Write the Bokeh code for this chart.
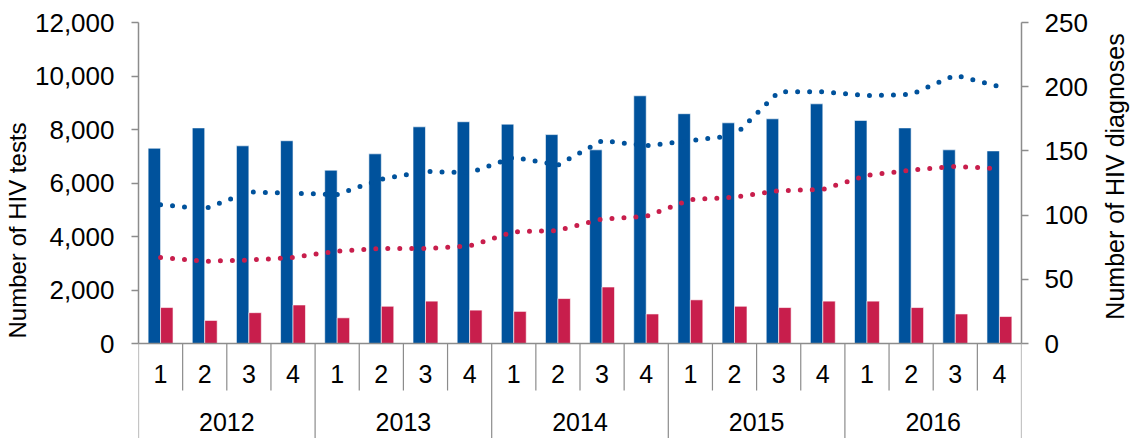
from bokeh.plotting import figure
from bokeh.models import (Range1d, FactorRange, LinearAxis, FixedTicker,
                          NumeralTickFormatter, ColumnDataSource, Span, Label)
from bokeh.transform import dodge
from bokeh.embed import file_html
from bokeh.resources import INLINE
from bokeh.core.properties import value

# ---------------- data ----------------
years = ["2012", "2013", "2014", "2015", "2016"]
quarters = ["1", "2", "3", "4"]
hiv_tests = [7300, 8060, 7390, 7580,
             6480, 7090, 8100, 8290,
             8200, 7810, 7240, 9260,
             8590, 8250, 8400, 8960,
             8340, 8060, 7240, 7200]
hiv_diagnoses = [28, 18, 24, 30,
                 20, 29, 33, 26,
                 25, 35, 44, 23,
                 34, 29, 28, 33,
                 33, 28, 23, 21]
tests_trend = [108, 105, 118, 117,
               116, 128, 134, 133,
               145, 139, 158, 154,
               158, 162, 196, 196,
               193, 194, 209, 200]
diag_trend = [67, 64, 65, 67,
              72, 74, 74, 76,
              87, 88, 97, 99,
              112, 114, 119, 120,
              131, 135, 138, 136]
left_ticks = [0, 2000, 4000, 6000, 8000, 10000, 12000]
right_ticks = [0, 50, 100, 150, 200, 250]
left_title = "Number of HIV tests"
right_title = "Number of HIV diagnoses"

# ---------------- layout ----------------
BLUE = "#00529C"
RED = "#C81E4C"
GREY = "#8C8C8C"
FONT = "Liberation Sans"
TICK_FS = "26px"
CAT_FS = "25px"
TITLE_FS = "24px"

W, H = 1130, 438
TOP, LEFT, RIGHT = 22, 135, 109
ZERO_PX = 321            # px from frame top down to value 0
FRAME_H = H - TOP
LMAX, RMAX = left_ticks[-1], right_ticks[-1]
lmin = LMAX - LMAX * FRAME_H / ZERO_PX
rmin = lmin * RMAX / LMAX
upp = LMAX / ZERO_PX     # left-axis units per pixel

factors = [(y, q) for y in years for q in quarters]

p = figure(width=W, height=H, output_backend="svg", toolbar_location=None,
           x_range=FactorRange(*factors, factor_padding=0, group_padding=0,
                               subgroup_padding=0, range_padding=0),
           y_range=Range1d(lmin, LMAX), x_axis_location=None,
           min_border_top=TOP, min_border_bottom=0,
           min_border_left=LEFT, min_border_right=RIGHT)
p.extra_y_ranges = {"right": Range1d(rmin, RMAX)}
p.outline_line_color = None
p.xgrid.visible = False
p.ygrid.visible = False
p.background_fill_color = "white"
p.border_fill_color = "white"

src = ColumnDataSource(dict(x=factors, tests=hiv_tests, diag=hiv_diagnoses,
                            tt=tests_trend, dt=diag_trend))

p.vbar(x=dodge("x", -0.141, range=p.x_range), top="tests", bottom=0, width=0.282,
       source=src, fill_color=BLUE, line_color="white", line_width=0.6)
p.vbar(x=dodge("x", 0.141, range=p.x_range), top="diag", bottom=0, width=0.282,
       source=src, fill_color=RED, line_color="white", line_width=0.6,
       y_range_name="right")

p.line(x="x", y="tt", source=src, y_range_name="right", line_color=BLUE,
       line_width=5, line_dash="0 12", line_cap="round")
p.line(x="x", y="dt", source=src, y_range_name="right", line_color=RED,
       line_width=5, line_dash="0 12", line_cap="round")

# category axis (drawn inside the frame below zero)
p.add_layout(Span(location=0, dimension="width", line_color=GREY, line_width=1.5))

q_sep = ColumnDataSource(dict(x=[f for f in factors if f[1] != "1"]))
p.segment(x0=dodge("x", -0.5, range=p.x_range), x1=dodge("x", -0.5, range=p.x_range),
          y0=0, y1=-47 * upp, source=q_sep, line_color=GREY, line_width=1.2)
y_sep = ColumnDataSource(dict(x=[f for f in factors if f[1] == "1"]))
p.segment(x0=dodge("x", -0.5, range=p.x_range), x1=dodge("x", -0.5, range=p.x_range),
          y0=0, y1=lmin, source=y_sep, line_color=GREY, line_width=1.2)
end_sep = ColumnDataSource(dict(x=[factors[-1]]))
p.segment(x0=dodge("x", 0.5, range=p.x_range), x1=dodge("x", 0.5, range=p.x_range),
          y0=0, y1=lmin, source=end_sep, line_color=GREY, line_width=1.2)

p.text(x="x", y=-30 * upp, text="q",
       source=ColumnDataSource(dict(x=factors, q=[f[1] for f in factors])),
       text_font=value(FONT), text_font_size=CAT_FS, text_align="center",
       text_baseline="middle", text_color="black")
p.text(x="x", y=-78 * upp, text="x",
       source=ColumnDataSource(dict(x=years)),
       text_font=value(FONT), text_font_size=CAT_FS, text_align="center",
       text_baseline="middle", text_color="black")


def style(ax):
    ax.axis_line_color = GREY
    ax.axis_line_width = 1.5
    ax.major_tick_line_color = GREY
    ax.major_tick_line_width = 1.5
    ax.major_tick_out = 7
    ax.major_tick_in = 0
    ax.minor_tick_line_color = None
    ax.major_label_text_font = FONT
    ax.major_label_text_font_size = TICK_FS
    ax.major_label_text_color = "black"
    ax.axis_label_text_font = FONT
    ax.axis_label_text_font_size = TITLE_FS
    ax.axis_label_text_font_style = "normal"
    ax.axis_label_text_color = "black"


la = p.yaxis[0]
la.ticker = FixedTicker(ticks=left_ticks)
la.formatter = NumeralTickFormatter(format="0,0")
la.bounds = (0, LMAX)
la.major_label_standoff = 17
la.axis_label = left_title
la.axis_label_standoff = 1
style(la)

ra = LinearAxis(y_range_name="right", ticker=FixedTicker(ticks=right_ticks),
                bounds=(0, RMAX))
ra.major_label_standoff = 16
style(ra)
p.add_layout(ra, "right")

# right title, reading bottom-to-top, placed in the right side panel
p.add_layout(Label(x=24, y=H - 176, x_units="screen", y_units="screen",
                   text=right_title, angle=90, angle_units="deg",
                   text_align="center", text_baseline="middle",
                   text_font=FONT, text_font_size="25px", text_color="black"),
             "right")

open("out.html", "w").write(file_html(p, INLINE))
